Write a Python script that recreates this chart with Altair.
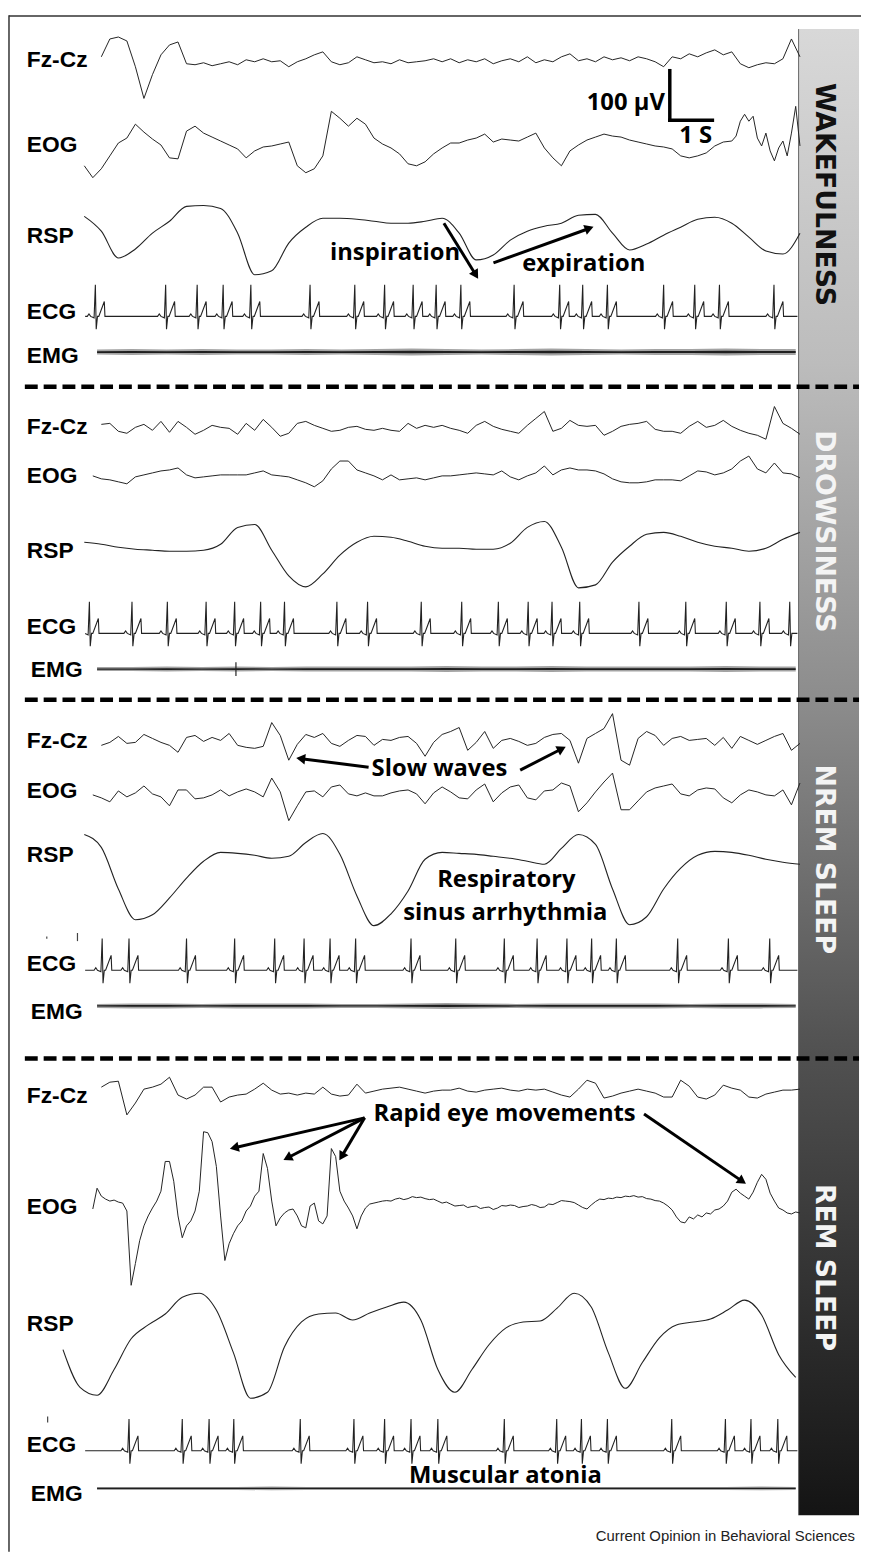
import math
import altair as alt
import pandas as pd

# ------------------------------------------------------------------
# DATA
# time in seconds; EEG/EOG in µV; RSP and ECG in arbitrary units
# drawn with the same display gain.  Sampled traces: t0, dt, values
# ------------------------------------------------------------------
STAGES = ["WAKEFULNESS", "DROWSINESS", "NREM SLEEP", "REM SLEEP"]
CHANNELS = ["Fz-Cz", "EOG", "RSP", "ECG", "EMG"]

# --- Wakefulness ---
WAKE_FZ = [12, 48, 52, 44, -8, -72, -24, 16, 36, 42,
           -2, -4, 0, -6, -2, 2, -4, 6, 2, 8,
           2, 4, -8, 2, 8, 16, 22, 2, -4, 0,
           12, 6, 0, 2, -2, 6, 0, 2, 4, 8,
           2, 8, 0, 6, 2, 8, -2, 4, 8, 2,
           12, 0, 6, 2, 12, 18, 4, 8, 2, 12,
           6, 10, 4, 12, 8, 2, -8, 12, 8, 18,
           12, 20, 26, 16, 22, -2, -10, -4, 0, -2,
           8, 48, 12]
WAKE_EOG = [-40, -64, -46, -20, 6, 16, 44, 28, 14, 2,
            -24, -26, 30, 40, 26, 18, 10, 2, -6, -24,
            -10, -2, 0, 4, 8, -40, -54, -46, -20, 70,
            56, 40, 56, 44, 16, 4, -4, -16, -36, -40,
            -32, -16, -4, 6, 6, 12, 16, 24, 8, 14,
            12, 10, 18, 26, -4, -24, -40, -10, 2, 12,
            18, 24, 20, 18, 12, 8, 4, 0, -2, -6,
            -20, -24, -20, -14, 0, 8, 10]
# fast eye-movement burst at the end of the wake EOG (0.1 s steps from 15.3 s)
WAKE_EOG_END = [20, 50, 64, 50, 60, 16, 0, 26, -10, -30, -4, 10, -20, 26, 80, 0]
WAKE_RSP = [38, 8, -46, -28, 4, 28, 58, 60, 54, 4,
            -80, -72, -16, 16, 34, 34, 32, 28, 24, 24,
            28, 34, 4, -50, -40, -10, 8, 18, 24, 40,
            42, 4, -30, -18, 0, 16, 32, 36, 24, -4,
            -32, -38, 4]
WAKE_ECG_BEATS = [0.26, 1.91, 2.65, 3.26, 3.91, 5.30, 6.35, 7.05, 7.72, 8.26,
                  8.84, 10.09, 11.16, 11.70, 12.28, 13.60, 14.33, 14.91, 16.19]
WAKE_EMG = [5, 6, 5, 6, 5, 5, 6, 5, 6, 7, 6, 5, 6, 7, 6, 5, 6, 6, 7, 6, 6]

# --- Drowsiness ---
DROW_FZ = [10, 12, -4, -8, 4, 10, -2, 16, -6, 16,
           4, -10, -2, 8, 4, 2, -10, 12, -2, 20,
           4, -14, -8, 12, 16, 8, 2, -4, -2, 4,
           6, 0, -2, 2, -2, -4, 12, 2, 8, 4,
           8, 2, -2, -8, 8, 16, 6, 0, -4, -8,
           8, 22, 36, -4, 2, 18, 8, 6, 8, -12,
           -4, 6, 10, 12, 16, 0, -4, -4, -8, 6,
           16, 4, 8, 18, 6, -2, -8, -12, -20, 46,
           12, 2, -10]
DROW_EOG = [-2, -8, -10, -14, -18, -4, 0, 4, 8, 10,
            14, 0, -6, -4, -2, 0, 0, 0, 0, 4,
            8, 0, -2, -4, -10, -16, -24, -12, 12, 28,
            28, 10, 4, -2, -10, 0, -10, -8, -6, -10,
            -6, -2, -2, 0, 2, 4, 2, 0, 8, -4,
            -10, -2, 4, 18, 0, 10, 14, 10, 10, 8,
            2, -8, -14, -16, -16, -14, -10, -10, -10, -12,
            -2, 8, 6, 0, 4, 12, 28, 38, 12, 4,
            24, 4, 2, -6]
DROW_RSP = [16, 12, 6, 2, 0, -2, -2, 0, 12, 46,
            52, 0, -52, -74, -48, -10, 16, 28, 26, 18,
            8, 4, 4, 2, 2, 14, 46, 58, 6, -76,
            -70, -24, 8, 32, 36, 28, 16, 8, 4, -2,
            4, 22, 36]
DROW_ECG_BEATS = [0.12, 1.12, 1.95, 2.86, 3.53, 4.14, 4.70, 5.93, 6.65, 7.91,
                  8.86, 9.72, 10.42, 10.98, 11.63, 13.02, 14.12, 15.07, 15.86, 16.56]
DROW_EMG = [4, 4, 5, 4, 5, 4, 5, 5, 5, 5, 6, 5, 5, 6, 5, 5, 5, 5, 6, 5, 5]
DROW_EMG_SPIKES = [3.56]

# --- NREM sleep ---
NREM_FZ = [-6, 0, 12, -2, 0, 16, 8, 0, -6, -20,
           10, 14, 2, 10, 4, 18, -6, -10, -12, -8,
           40, 14, -36, -4, 16, 10, 18, -2, -8, 4,
           14, 12, -6, 6, 4, 10, 12, -2, -28, 0,
           16, 22, 30, -16, 0, 22, -12, 4, 8, 2,
           -6, -2, 10, 16, 18, 4, -42, 8, 18, 28,
           58, -36, -46, 8, 22, 14, -6, 8, 12, 4,
           6, 8, -6, 10, -12, 12, 4, -4, 4, 12,
           18, -16, -2]
NREM_EOG = [-4, -10, -18, 4, -8, 0, 14, -2, -8, -26,
            6, 6, -12, -10, -4, 6, -6, 2, 8, 2,
            -8, 30, 2, -56, -26, 2, 4, -8, 12, 16,
            -2, -6, 0, -6, -6, 0, 4, 6, -2, -22,
            0, 12, 2, -10, -12, 6, 18, -18, 0, 12,
            16, -10, -14, 4, 6, 20, 14, -38, -20, 2,
            22, 40, -34, -34, -16, 2, 10, 14, 18, -2,
            -6, 6, 10, 8, -10, -20, -4, 6, 2, -4,
            -6, 6, -24, 20]
NREM_RSP = [70, 44, -40, -102, -92, -58, -18, 16, 34, 32,
            28, 22, 26, 54, 72, 30, -54, -114, -90, -44,
            20, 34, 32, 30, 26, 22, 16, 10, 42, 70,
            50, -40, -112, -96, -40, 2, 28, 36, 34, 28,
            20, 14, 10]
NREM_ECG_BEATS = [0.42, 1.05, 2.40, 3.53, 4.47, 5.16, 5.77, 6.37, 7.67, 8.72,
                  9.86, 10.63, 11.33, 11.91, 12.49, 13.93, 15.12, 16.09]
NREM_EMG = [4, 5, 5, 4, 5, 5, 5, 4, 4, 5, 6, 5, 4, 5, 5, 5, 5, 4, 5, 5, 4]

# --- REM sleep ---
REM_FZ = [10, 20, 22, -46, -22, 6, 10, 16, 30, -6,
          -14, -6, 10, 10, -20, -10, -6, -4, 6, 18,
          4, -4, -2, -6, -2, -4, 10, -4, -8, -6,
          16, -2, 2, 6, 8, 10, 6, 2, -2, 2,
          4, 4, 8, 2, 0, 4, 6, 8, 4, 2,
          6, 4, 6, 0, -6, -10, 6, 24, 18, -12,
          -8, -2, 2, 6, 2, -2, -10, -10, 24, 12,
          -10, -14, -6, 14, 8, 4, -10, -12, -4, 0,
          4, 4, 6]
REM_EOG = [-12, 30, 14, 8, 4, 6, 2, 0, -16, -166,
           -122, -76, -46, -26, -10, 4, 24, 84, 84, 44,
           -26, -70, -46, -36, -16, 24, 144, 142, 124, 74,
           -26, -116, -82, -62, -46, -36, -16, -6, 14, 24,
           100, 70, 4, -46, -30, -20, -14, -12, -26, -46,
           -50, -6, 0, -36, -42, -26, 110, 94, 24, 4,
           -10, -26, -52, -26, -10, -2, 0,
           2, 4, 5, 4, 8, 10, 7, 9, 13, 11,
           12, 9, 7, 8, 4, 0, 2, -2, -6, -5,
           -4, -9, -7, -6, -11, -9, -8, -13, -10, -5,
           -6, -4, -5, -9, -7, -6, -3, -5, -9, -8,
           -2, -3, 1, 5, 4, 3, 1, -4, -9, -12,
           -4, 3, 8, 7, 10, 9, 12, 11, 14, 13,
           15, 12, 13, 9, 8, 5, 4, 0, -6,
           -14, -28, -38, -40,
           -28, -32, -24, -28, -20, -22, -14, -12, -6, 4,
           22, 28, 20, 14, 8, 22, 42, 58, 48, 20,
           4, -10, -14, -20, -22, -18, -20]
REM_RSP = [-10, -86, -102, -50, 12, 40, 62, 96, 104, 70,
           -16, -108, -96, -4, 46, 62, 64, 50, 64, 76,
           86, 50, -50, -96, -50, 0, 34, 46, 48, 74,
           104, 76, -16, -88, -36, 14, 40, 46, 52, 70,
           90, 60, -20, -66]
REM_ECG_BEATS = [1.05, 2.30, 2.93, 3.51, 5.07, 6.33, 7.05, 7.67, 8.30, 9.86,
                 11.09, 11.67, 12.28, 13.79, 15.05, 15.65, 16.28]
REM_EMG = [3, 3, 3, 3, 3, 4, 3, 3, 3, 3, 3, 3, 3, 3, 3, 3, 3, 3, 3, 4, 3]

# small stray marks left of the ECG traces: (stage, t, v_low, v_high)
ECG_ARTIFACTS = [("NREM SLEEP", -0.88, 65, 67), ("NREM SLEEP", -0.16, 60, 74),
                 ("REM SLEEP", -0.86, 58, 68)]

# one ECG beat (P, Q, R, S, T): offset [s], value
ECG_SHAPE_T = [-0.19, -0.15, -0.11, -0.03, 0.0, 0.02, 0.05, 0.08, 0.21, 0.225]
ECG_SHAPE_V = [0, 5, 0, -3, 64, -26, 0, 0, 30, 0]
ECG_SPAN = (0.02, 16.74)
EMG_T0, EMG_DT = 0.3, 0.82

# (stage, channel, t0, dt, values) -- segments of one channel are joined
SAMPLED = [
    ("WAKEFULNESS", "Fz-Cz", 0.4, 0.2, WAKE_FZ),
    ("WAKEFULNESS", "EOG", 0.0, 0.2, WAKE_EOG),
    ("WAKEFULNESS", "EOG", 15.3, 0.1, WAKE_EOG_END),
    ("WAKEFULNESS", "RSP", 0.0, 0.4, WAKE_RSP),
    ("DROWSINESS", "Fz-Cz", 0.4, 0.2, DROW_FZ),
    ("DROWSINESS", "EOG", 0.2, 0.2, DROW_EOG),
    ("DROWSINESS", "RSP", 0.0, 0.4, DROW_RSP),
    ("NREM SLEEP", "Fz-Cz", 0.4, 0.2, NREM_FZ),
    ("NREM SLEEP", "EOG", 0.2, 0.2, NREM_EOG),
    ("NREM SLEEP", "RSP", 0.0, 0.4, NREM_RSP),
    ("REM SLEEP", "Fz-Cz", 0.4, 0.2, REM_FZ),
    ("REM SLEEP", "EOG", 0.2, 0.1, REM_EOG),
    ("REM SLEEP", "RSP", -0.5, 0.4, REM_RSP),
]
ECG_BEATS = {"WAKEFULNESS": WAKE_ECG_BEATS, "DROWSINESS": DROW_ECG_BEATS,
             "NREM SLEEP": NREM_ECG_BEATS, "REM SLEEP": REM_ECG_BEATS}
EMG_ENV = {"WAKEFULNESS": WAKE_EMG, "DROWSINESS": DROW_EMG,
           "NREM SLEEP": NREM_EMG, "REM SLEEP": REM_EMG}

# ------------------------------------------------------------------
# LAYOUT (page pixels)
# ------------------------------------------------------------------
W, H = 861, 1551
X0_PX, PX_PER_S, GAIN = 85.0, 43.0, 0.5
BASE_Y = {
    "WAKEFULNESS": {"Fz-Cz": 56, "EOG": 140, "RSP": 230, "ECG": 312, "EMG": 348},
    "DROWSINESS": {"Fz-Cz": 426, "EOG": 472, "RSP": 548, "ECG": 632, "EMG": 668},
    "NREM SLEEP": {"Fz-Cz": 742, "EOG": 793, "RSP": 870, "ECG": 972, "EMG": 1008},
    "REM SLEEP": {"Fz-Cz": 1095, "EOG": 1207, "RSP": 1350, "ECG": 1457, "EMG": 1495},
}
LABEL_BASELINE = {
    "WAKEFULNESS": [60, 146, 238, 315, 359],
    "DROWSINESS": [431, 480, 556, 633, 676],
    "NREM SLEEP": [748, 798, 863, 973, 1021],
    "REM SLEEP": [1106, 1218, 1336, 1458, 1508],
}
STAGE_CENTER_Y = {"WAKEFULNESS": 189, "DROWSINESS": 529, "NREM SLEEP": 860, "REM SLEEP": 1272}
STAGE_COLOR = {"WAKEFULNESS": "#111111", "DROWSINESS": "#f4f4f4",
               "NREM SLEEP": "#f4f4f4", "REM SLEEP": "#f4f4f4"}
DASH_Y = [383, 699, 1061]


def tx(px):
    return (px - X0_PX) / PX_PER_S


def ty(py):
    return py - 8.0


def ypos(stage, ch, v):
    return ty(BASE_Y[stage][ch]) - GAIN * v


# ---- build tables ----
rows = []
for stage, ch, t0, dt, vals in SAMPLED:
    for i, v in enumerate(vals):
        rows.append({"trace": stage + ch, "kind": "rsp" if ch == "RSP" else "eeg",
                     "t": t0 + i * dt, "y": ypos(stage, ch, v)})
for stage, beats in ECG_BEATS.items():
    pts = [(ECG_SPAN[0], 0.0)]
    for b in beats:
        for dt_, v in zip(ECG_SHAPE_T, ECG_SHAPE_V):
            t = b + dt_
            if ECG_SPAN[0] < t < ECG_SPAN[1]:
                pts.append((t, v))
    pts.append((ECG_SPAN[1], 0.0))
    for t, v in pts:
        rows.append({"trace": stage + "ECG", "kind": "ecg", "t": t, "y": ypos(stage, "ECG", v)})
lines = pd.DataFrame(rows)

emg_rows = []
for stage, env in EMG_ENV.items():
    for i, a in enumerate(env):
        emg_rows.append({"trace": stage, "t": EMG_T0 + i * EMG_DT,
                         "lo": ypos(stage, "EMG", -a), "hi": ypos(stage, "EMG", a),
                         "lo_c": ypos(stage, "EMG", -0.35 * a), "hi_c": ypos(stage, "EMG", 0.35 * a)})
emg = pd.DataFrame(emg_rows)
spikes = pd.DataFrame([{"t": t, "lo": ypos("DROWSINESS", "EMG", -14), "hi": ypos("DROWSINESS", "EMG", 14)}
                       for t in DROW_EMG_SPIKES])
artifacts = pd.DataFrame([{"t": t, "lo": ypos(s, "ECG", lo) + 0.6, "hi": ypos(s, "ECG", hi) - 0.6}
                          for s, t, lo, hi in ECG_ARTIFACTS])

labels = []
for stage in STAGES:
    for ch, yb in zip(CHANNELS, LABEL_BASELINE[stage]):
        xl = 27 if (ch != "EMG" or stage == "WAKEFULNESS") else 31
        labels.append({"text": ch, "t": tx(xl), "y": ty(yb)})
labels = pd.DataFrame(labels)

stage_df = pd.DataFrame([{"text": s, "t": tx(832), "y": ty(STAGE_CENTER_Y[s]), "col": STAGE_COLOR[s]}
                         for s in STAGES])

ann_left = pd.DataFrame([
    {"text": "inspiration", "t": tx(333), "y": ty(255)},
    {"text": "expiration", "t": tx(527), "y": ty(266)},
    {"text": "Slow waves", "t": tx(375), "y": ty(776)},
    {"text": "Rapid eye movements", "t": tx(377), "y": ty(1124)},
])
ann_center = pd.DataFrame([
    {"text": "Respiratory", "t": tx(511), "y": ty(888)},
    {"text": "sinus arrhythmia", "t": tx(510), "y": ty(921)},
    {"text": "Muscular atonia", "t": tx(510), "y": ty(1490)},
    {"text": "1 S", "t": tx(702), "y": ty(137)},
])
ann_right = pd.DataFrame([{"text": "100 µV", "t": tx(671), "y": ty(104)}])

ARROWS = [((448, 218), (482, 273)), ((498, 258), (598, 222)),
          ((372, 767), (300, 758)), ((525, 770), (570, 747)),
          ((368, 1121), (233, 1152)), ((368, 1121), (287, 1163)),
          ((368, 1121), (343, 1163)), ((650, 1117), (752, 1187))]
arr_rows, head_rows = [], []
for (x1, y1), (x2, y2) in ARROWS:
    dx, dy = x2 - x1, y2 - y1
    n = math.hypot(dx, dy)
    ux, uy = dx / n, dy / n
    arr_rows.append({"t": tx(x1), "y": ty(y1), "t2": tx(x2 - 6 * ux), "y2": ty(y2 - 6 * uy)})
    ang = math.degrees(math.atan2(dx, -dy)) % 360
    head_rows.append({"t": tx(x2 - 5 * ux), "y": ty(y2 - 5 * uy), "ang": ang})
arrows = pd.DataFrame(arr_rows)
heads = pd.DataFrame(head_rows)

# scale bar: 100 µV x 1 s
SB_X, SB_Y = 676, 114
scalebar = pd.DataFrame([
    {"t": tx(SB_X), "y": ty(SB_Y), "t2": tx(SB_X), "y2": ty(SB_Y) - GAIN * 100},
    {"t": tx(SB_X), "y": ty(SB_Y), "t2": tx(SB_X) + 1.0, "y2": ty(SB_Y)},
])
dashes = pd.DataFrame({"y": [ty(v) for v in DASH_Y]})

# ------------------------------------------------------------------
xs = alt.Scale(domain=[tx(8), tx(8 + W)], range=[0, W], nice=False, zero=False)
ys = alt.Scale(domain=[0, H], range=[0, H], nice=False, zero=False)
X = alt.X("t:Q", scale=xs, axis=None)
Y = alt.Y("y:Q", scale=ys, axis=None)
X2 = alt.X2("t2:Q")
Y2 = alt.Y2("y2:Q")

dummy = pd.DataFrame({"a": [0]})
grad = alt.Gradient(gradient="linear",
                    stops=[alt.GradientStop(color="#d8d8d8", offset=0),
                           alt.GradientStop(color="#bcbcbc", offset=0.225),
                           alt.GradientStop(color="#8c8c8c", offset=0.452),
                           alt.GradientStop(color="#505050", offset=0.692),
                           alt.GradientStop(color="#141414", offset=1)],
                    x1=0, x2=0, y1=0, y2=1)

bar = alt.Chart(dummy).mark_rect(fill=grad).encode(
    x=alt.value(806 - 8), x2=alt.value(867 - 8), y=alt.value(22 - 8), y2=alt.value(1522 - 8))
bar_edge = alt.Chart(dummy).mark_rule(color="#666666", strokeWidth=1).encode(
    x=alt.value(806 - 8), y=alt.value(22 - 8), y2=alt.value(1522 - 8))
border_top = alt.Chart(dummy).mark_rule(color="#333333", strokeWidth=1.5).encode(
    x=alt.value(1), x2=alt.value(W), y=alt.value(0.75))
border_left = alt.Chart(dummy).mark_rule(color="#333333", strokeWidth=1.5).encode(
    x=alt.value(1), y=alt.value(0), y2=alt.value(H))

eeg = alt.Chart(lines[lines.kind == "eeg"]).mark_line(color="#222222", strokeWidth=1.0).encode(
    x=X, y=Y, detail="trace:N")
ecg = alt.Chart(lines[lines.kind == "ecg"]).mark_line(color="#222222", strokeWidth=1.1).encode(
    x=X, y=Y, detail="trace:N")
rsp = alt.Chart(lines[lines.kind == "rsp"]).mark_line(color="#222222", strokeWidth=1.1,
                                                      interpolate="monotone").encode(
    x=X, y=Y, detail="trace:N")
emg_band = alt.Chart(emg).mark_area(color="#333333", opacity=0.45).encode(
    x=X, y=alt.Y("lo:Q", scale=ys, axis=None), y2=alt.Y2("hi:Q"), detail="trace:N")
emg_core = alt.Chart(emg).mark_area(color="#111111", opacity=0.9).encode(
    x=X, y=alt.Y("lo_c:Q", scale=ys, axis=None), y2=alt.Y2("hi_c:Q"), detail="trace:N")
emg_spk = alt.Chart(spikes).mark_rule(color="#222222", strokeWidth=1.2).encode(
    x=X, y=alt.Y("lo:Q", scale=ys, axis=None), y2=alt.Y2("hi:Q"))
ecg_art = alt.Chart(artifacts).mark_rule(color="#444444", strokeWidth=1.2).encode(
    x=X, y=alt.Y("lo:Q", scale=ys, axis=None), y2=alt.Y2("hi:Q"))

dash = alt.Chart(dashes).mark_rule(color="black", strokeWidth=4.5, strokeDash=[13, 6]).encode(
    x=alt.value(25 - 8), x2=alt.value(867 - 8), y=Y)

ch_labels = alt.Chart(labels).mark_text(align="left", baseline="alphabetic", font="Liberation Sans",
                                        fontWeight="bold", fontSize=23, color="black").encode(
    x=X, y=Y, text="text:N")
st_labels = alt.Chart(stage_df).mark_text(align="center", baseline="middle", angle=90,
                                          font="DejaVu Sans", fontWeight="bold", fontSize=27).encode(
    x=X, y=Y, text="text:N", color=alt.Color("col:N", scale=None))

AFONT = dict(font="Open Sans", fontWeight="bold", fontSize=24, color="black", baseline="alphabetic")
a_left = alt.Chart(ann_left).mark_text(align="left", **AFONT).encode(x=X, y=Y, text="text:N")
a_center = alt.Chart(ann_center).mark_text(align="center", **AFONT).encode(x=X, y=Y, text="text:N")
a_right = alt.Chart(ann_right).mark_text(align="right", **AFONT).encode(x=X, y=Y, text="text:N")

arrow_lines = alt.Chart(arrows).mark_rule(color="black", strokeWidth=3).encode(x=X, y=Y, x2=X2, y2=Y2)
arrow_heads = alt.Chart(heads).mark_point(shape="triangle", filled=True, size=110, color="black",
                                          opacity=1).encode(
    x=X, y=Y, angle=alt.Angle("ang:Q", scale=None))
sbar = alt.Chart(scalebar).mark_rule(color="black", strokeWidth=3.5, strokeCap="square").encode(
    x=X, y=Y, x2=X2, y2=Y2)

footer = alt.Chart(dummy).mark_text(align="right", baseline="alphabetic", font="Liberation Sans",
                                    fontSize=15, color="#222222",
                                    text="Current Opinion in Behavioral Sciences").encode(
    x=alt.value(863 - 8), y=alt.value(1548 - 8))

chart = alt.layer(
    bar, bar_edge, border_top, border_left,
    eeg, ecg, rsp, emg_band, emg_core, emg_spk, ecg_art,
    dash, ch_labels, st_labels, a_left, a_center, a_right,
    arrow_lines, arrow_heads, sbar, footer,
).properties(
    width=W, height=H, padding=0, autosize=alt.AutoSizeParams(type="none"),
    background="white",
).configure_view(stroke=None)

chart.save("out.html", embed_options={"renderer": "svg", "actions": False})
